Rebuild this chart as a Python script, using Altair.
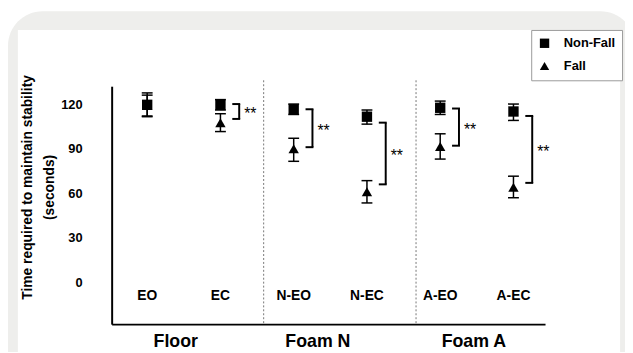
import altair as alt
import pandas as pd

# ---- data ----
conditions = ["EO", "EC", "N-EO", "N-EC", "A-EO", "A-EC"]
cond_pos = [1, 2, 3, 4, 5, 6]

nonfall_mean = [119.5, 119.5, 116.5, 111.5, 117.5, 115.0]
nonfall_lo = [111.5, 116.0, 113.0, 106.5, 113.0, 109.0]
nonfall_hi = [127.5, 123.0, 120.0, 116.0, 122.0, 120.0]

fall_mean = [119.0, 107.5, 90.0, 61.0, 91.5, 64.0]
fall_lo = [112.0, 101.5, 81.5, 53.5, 83.0, 57.0]
fall_hi = [126.0, 113.5, 97.0, 68.5, 100.0, 71.5]

series = ["Non-Fall", "Fall"]

bracket_pos = [2, 3, 4, 5, 6]
bracket_top = [120.0, 116.5, 107.5, 117.0, 112.0]
bracket_bottom = [110.0, 91.0, 66.0, 92.0, 67.0]
bracket_label = ["**", "**", "**", "**", "**"]

groups = ["Floor", "Foam N", "Foam A"]
group_pos = [1.39, 3.33, 5.46]
separators = [2.59, 4.67]

y_ticks = [0, 30, 60, 90, 120]

# ---- tables ----
points = pd.DataFrame({
    "cond": conditions * 2,
    "pos": cond_pos * 2,
    "grp": [series[0]] * 6 + [series[1]] * 6,
    "mean": nonfall_mean + fall_mean,
    "lo": nonfall_lo + fall_lo,
    "hi": nonfall_hi + fall_hi,
})
brackets = pd.DataFrame({"pos": bracket_pos, "top": bracket_top,
                         "bottom": bracket_bottom, "lab": bracket_label})
cond_df = pd.DataFrame({"pos": cond_pos, "lab": conditions})
group_df = pd.DataFrame({"pos": group_pos, "lab": groups})
sep_df = pd.DataFrame({"pos": separators})
one = pd.DataFrame({"k": [0]})

FONT = "Liberation Sans"
W, H = 439, 241
X = alt.Scale(domain=[0.515, 6.431], nice=False, zero=False)
Y = alt.Scale(domain=[-28, 132], nice=False, zero=False)

xaxis = alt.Axis(title=None, labels=False, ticks=False, grid=False,
                 domainColor="black", domainWidth=2, zindex=1)
yaxis = alt.Axis(title=["Time required to maintain stability", "(seconds)"],
                 values=y_ticks, ticks=False, grid=False,
                 domainColor="black", domainWidth=2, zindex=1,
                 labelFont=FONT, labelFontSize=13, labelFontWeight="bold",
                 labelColor="black", labelPadding=30,
                 titleFont=FONT, titleFontSize=14, titleFontWeight="bold",
                 titleColor="black", titleAngle=-90, titleAlign="center",
                 titleBaseline="bottom", titleLineHeight=22,
                 titleX=-78, titleY=102)


def xenc(field="pos"):
    return alt.X(f"{field}:Q", scale=X, axis=xaxis)


# ---- decoration (frame) ----
gray = alt.Chart(one).mark_rect(color="#eeeeec", cornerRadius=35).encode(
    x=alt.value(-105), x2=alt.value(530), y=alt.value(-76), y2=alt.value(330))
white = alt.Chart(one).mark_rect(color="white").encode(
    x=alt.value(-95), x2=alt.value(515), y=alt.value(-57), y2=alt.value(330))

seps = alt.Chart(sep_df).mark_rule(color="#777777", strokeDash=[2, 2],
                                   strokeWidth=1).encode(
    x=xenc(), y=alt.value(-6), y2=alt.value(H))

# ---- error bars ----
err = alt.Chart(points).mark_rule(color="black", strokeWidth=1.5).encode(
    x=xenc(), y=alt.Y("lo:Q", scale=Y, axis=yaxis), y2="hi:Q")
cap_lo = alt.Chart(points).mark_rule(color="black", strokeWidth=1.5,
                                     xOffset=-5.5, x2Offset=5.5).encode(
    x=xenc(), x2="pos:Q", y=alt.Y("lo:Q", scale=Y, axis=yaxis))
cap_hi = alt.Chart(points).mark_rule(color="black", strokeWidth=1.5,
                                     xOffset=-5.5, x2Offset=5.5).encode(
    x=xenc(), x2="pos:Q", y=alt.Y("hi:Q", scale=Y, axis=yaxis))

# ---- points ----
pts = alt.Chart(points).mark_point(filled=True, opacity=1, color="black",
                                   size=110).encode(
    x=xenc(),
    y=alt.Y("mean:Q", scale=Y, axis=yaxis),
    shape=alt.Shape("grp:N",
                    scale=alt.Scale(domain=series, range=["square", "triangle-up"]),
                    legend=alt.Legend(title=None, orient="none",
                                      legendX=425, legendY=-57,
                                      strokeColor="#999999", fillColor="white",
                                      padding=7, labelFont=FONT,
                                      labelFontSize=13, labelFontWeight="bold",
                                      labelColor="black", labelOffset=13,
                                      rowPadding=9, symbolSize=90,
                                      symbolFillColor="black",
                                      symbolStrokeColor="black",
                                      symbolStrokeWidth=0, zindex=2)),
)

# ---- significance brackets ----
arm_top = alt.Chart(brackets).mark_rule(color="black", strokeWidth=2,
                                        xOffset=12, x2Offset=20).encode(
    x=xenc(), x2="pos:Q", y=alt.Y("top:Q", scale=Y, axis=yaxis))
arm_bot = alt.Chart(brackets).mark_rule(color="black", strokeWidth=2,
                                        xOffset=12, x2Offset=20).encode(
    x=xenc(), x2="pos:Q", y=alt.Y("bottom:Q", scale=Y, axis=yaxis))
vert = alt.Chart(brackets).mark_rule(color="black", strokeWidth=2,
                                     xOffset=19).encode(
    x=xenc(), y=alt.Y("top:Q", scale=Y, axis=yaxis), y2="bottom:Q")
stars = alt.Chart(brackets).transform_calculate(
    mid="(datum.top + datum.bottom) / 2").mark_text(
    font=FONT, fontSize=16, align="left", baseline="middle", dx=24, dy=3,
    color="black").encode(
    x=xenc(), y=alt.Y("mid:Q", scale=Y, axis=yaxis), text="lab:N")

# ---- text labels ----
cond_text = alt.Chart(cond_df).mark_text(
    font=FONT, fontSize=14, fontWeight="bold", baseline="middle",
    color="black").encode(x=xenc(), y=alt.datum(-9), text="lab:N")
group_text = alt.Chart(group_df).mark_text(
    font=FONT, fontSize=18, fontWeight="bold", baseline="alphabetic",
    color="black").encode(x=xenc(), y=alt.datum(-43.5), text="lab:N")

chart = alt.layer(
    gray, white, seps, err, cap_lo, cap_hi, pts,
    arm_top, arm_bot, vert, stars, cond_text, group_text,
).properties(
    width=W, height=H,
    autosize=alt.AutoSizeParams(type="none"),
    padding={"left": 105, "top": 77, "right": 81, "bottom": 26},
    background="white",
).configure_view(stroke=None).configure(font=FONT)

chart.save("out.html", embed_options={"renderer": "svg", "actions": False})
